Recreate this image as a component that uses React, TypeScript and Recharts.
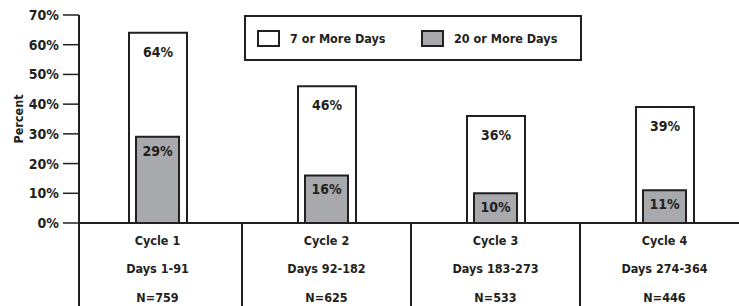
import { BarChart, Bar, XAxis, YAxis, Legend, LabelList } from 'recharts'

const cycles = ['Cycle 1', 'Cycle 2', 'Cycle 3', 'Cycle 4']
const dayRanges = ['Days 1-91', 'Days 92-182', 'Days 183-273', 'Days 274-364']
const sampleSizes = ['N=759', 'N=625', 'N=533', 'N=446']
const sevenOrMore = [64, 46, 36, 39]
const twentyOrMore = [29, 16, 10, 11]
const yTicks = [0, 10, 20, 30, 40, 50, 60, 70]
const seriesNames = ['7 or More Days', '20 or More Days']

const data = cycles.map((cycle, i) => ({
  cycle,
  days: dayRanges[i],
  n: sampleSizes[i],
  seven: sevenOrMore[i],
  twenty: twentyOrMore[i],
}))

const INK = '#231f20'
const GRAY = '#a7a9ac'
const FONT = '"DejaVu Sans Condensed", "Liberation Sans Narrow", sans-serif'

const W = 739
const H = 306
const LEFT = 79
const TOP = 15
const XAXIS_H = 83
const AXIS_Y = H - XAXIS_H
const PAD = { left: -6, right: -10 }
const HALF_BAND = (W - LEFT - PAD.left - PAD.right) / cycles.length / 2

const textStyle = { fill: INK, fontFamily: FONT, fontWeight: 700, fontSize: 14 }
const tableStyle = { ...textStyle, fontSize: 12.5 }

// x axis drawn as a table: three text rows and cell dividers
const TableTick = ({ x, payload }: any) => {
  const i = cycles.indexOf(payload.value)
  if (i < 0) return null
  return (
    <g>
      {i === 0 && <line x1={LEFT} x2={LEFT} y1={AXIS_Y} y2={H} stroke={INK} strokeWidth={2} />}
      {i < cycles.length - 1 && (
        <line x1={x + HALF_BAND} x2={x + HALF_BAND} y1={AXIS_Y} y2={H} stroke={INK} strokeWidth={2} />
      )}
      <text x={x} y={AXIS_Y + 17} textAnchor="middle" dominantBaseline="central" {...tableStyle}>
        {cycles[i]}
      </text>
      <text x={x} y={AXIS_Y + 45} textAnchor="middle" dominantBaseline="central" {...tableStyle}>
        {dayRanges[i]}
      </text>
      <text x={x} y={AXIS_Y + 74} textAnchor="middle" dominantBaseline="central" {...tableStyle}>
        {sampleSizes[i]}
      </text>
    </g>
  )
}

const LegendBox = ({ payload }: any) => {
  const items = [...(payload || [])].sort(
    (a: any, b: any) => seriesNames.indexOf(a.value) - seriesNames.indexOf(b.value)
  )
  const lefts = [11, 175]
  return (
    <div
      style={{
        position: 'relative',
        boxSizing: 'border-box',
        width: 338,
        height: 46,
        border: `2px solid ${INK}`,
        background: '#fff',
        fontFamily: FONT,
        fontWeight: 700,
        fontSize: 12.5,
        color: INK,
      }}
    >
      {items.map((it: any, k: number) => (
        <div key={k} style={{ position: 'absolute', left: lefts[k], top: 13, display: 'flex', alignItems: 'center' }}>
          <span
            style={{
              display: 'inline-block',
              boxSizing: 'border-box',
              width: 23,
              height: 17,
              border: `2px solid ${INK}`,
              background: it.payload?.fill ?? it.color,
            }}
          />
          <span style={{ marginLeft: 10 }}>{it.value}</span>
        </div>
      ))}
    </div>
  )
}

export default function App() {
  return (
    <div style={{ position: 'absolute', left: 0, top: 0, background: '#fff' }}>
      <BarChart width={W} height={H} data={data} margin={{ top: TOP, right: 0, bottom: 0, left: 0 }}>
        <XAxis
          xAxisId="outer"
          dataKey="cycle"
          height={XAXIS_H}
          padding={PAD}
          axisLine={{ stroke: INK, strokeWidth: 2 }}
          tickLine={false}
          tickSize={0}
          interval={0}
          tick={<TableTick />}
        />
        <XAxis xAxisId="inner" dataKey="cycle" padding={PAD} height={0} hide />
        <YAxis
          width={LEFT}
          domain={[0, 70]}
          ticks={yTicks}
          tickFormatter={(v: number) => `${v}%`}
          axisLine={{ stroke: INK, strokeWidth: 2 }}
          tickLine={{ stroke: INK, strokeWidth: 1.5 }}
          tickSize={16}
          tickMargin={4}
          tick={textStyle}
          label={{
            content: ({ viewBox }: any) => {
              const cy = viewBox.y + viewBox.height / 2
              return (
                <text x={18} y={cy} transform={`rotate(-90 18 ${cy})`} textAnchor="middle" dominantBaseline="central" {...textStyle} fontSize={12.5}>
                  Percent
                </text>
              )
            },
          }}
        />
        <Legend
          layout="horizontal"
          verticalAlign="middle"
          align="center"
          content={<LegendBox />}
          wrapperStyle={{ position: 'absolute', left: 244, top: 15, width: 338, height: 46 }}
        />
        <Bar
          xAxisId="outer"
          dataKey="seven"
          name={seriesNames[0]}
          fill="#ffffff"
          stroke={INK}
          strokeWidth={2}
          barSize={58}
          isAnimationActive={false}
        >
          <LabelList dataKey="seven" position="insideTop" offset={14} formatter={(v: any) => `${v}%`} style={textStyle} />
        </Bar>
        <Bar
          xAxisId="inner"
          dataKey="twenty"
          name={seriesNames[1]}
          fill={GRAY}
          stroke={INK}
          strokeWidth={2}
          barSize={43}
          isAnimationActive={false}
        >
          <LabelList dataKey="twenty" position="insideTop" offset={9} formatter={(v: any) => `${v}%`} style={textStyle} />
        </Bar>
      </BarChart>
    </div>
  )
}
